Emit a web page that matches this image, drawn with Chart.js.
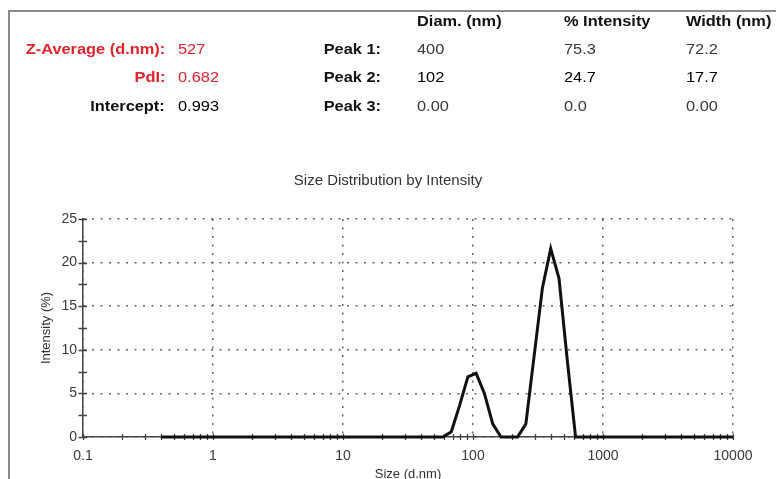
<!DOCTYPE html>
<html>
<head>
<meta charset="utf-8">
<script src="https://cdn.jsdelivr.net/npm/chart.js@4/dist/chart.umd.min.js"></script>
<style>
  html, body { margin: 0; padding: 0; background: #fff; overflow: hidden; }
  #page { position: relative; width: 776px; height: 479px; font-family: "Liberation Sans", Arial, sans-serif; }
  #frame { position: absolute; left: 8px; top: 10px; right: -4px; bottom: -4px; border-left: 2px solid #8a8a8a; border-top: 2px solid #8a8a8a; }
  #chartCanvas { position: absolute; left: 0; top: 0; }
  .t { position: absolute; font-size: 14px; line-height: 16px; white-space: nowrap; transform: scaleX(1.17); }
  .l { transform-origin: left center; }
  .r { transform-origin: right center; text-align: right; }
  .b { font-weight: bold; color: #111; }
  .red { color: #e3232b; }
  .v { color: #383838; }
  .k { color: #000; }
</style>
</head>
<body>
<div id="page">
  <div id="frame"></div>
  <canvas id="chartCanvas" width="776" height="479"></canvas>
  <div id="header"></div>
</div>
<script>
// size bins (d.nm) and intensity (%)
const sizes = [0.4, 58.8, 68.1, 78.8, 91.3, 105.7, 122.4, 141.8, 164.2, 190.1, 220.2, 255, 295.3, 342, 396.1, 458.7, 531.2, 615.1, 10000];
const intensity = [0, 0, 0.6, 3.6, 6.9, 7.3, 5.0, 1.5, 0, 0, 0, 1.5, 9.3, 17.1, 21.6, 18.2, 8.8, 0, 0];

const xTicks = [0.1, 1, 10, 100, 1000, 10000];
const yTicks = [0, 5, 10, 15, 20, 25];
const yMinorTicks = [0, 2.5, 5, 7.5, 10, 12.5, 15, 17.5, 20, 22.5, 25];

const summaryLabels = ["Z-Average (d.nm):", "PdI:", "Intercept:"];
const summaryValues = ["527", "0.682", "0.993"];
const peakLabels = ["Peak 1:", "Peak 2:", "Peak 3:"];
const peakColumns = ["Diam. (nm)", "% Intensity", "Width (nm)"];
const peakDiam = ["400", "102", "0.00"];
const peakIntensity = ["75.3", "24.7", "0.0"];
const peakWidth = ["72.2", "17.7", "0.00"];

function addText(text, cls, x, yc, alignRight) {
  const el = document.createElement("div");
  el.className = "t " + cls + (alignRight ? " r" : " l");
  el.textContent = text;
  el.style.top = (yc - 8) + "px";
  if (alignRight) el.style.right = (776 - x) + "px";
  else el.style.left = x + "px";
  document.getElementById("header").appendChild(el);
}

function buildHeader() {
  const rowY = [49, 77, 106];
  const colX = [417, 564, 686];
  peakColumns.forEach((c, i) => addText(c, "b", colX[i], 21, false));
  summaryLabels.forEach((s, i) => addText(s, i < 2 ? "b red" : "b", 165, rowY[i], true));
  summaryValues.forEach((s, i) => addText(s, i < 2 ? "red" : "k", 178, rowY[i], false));
  peakLabels.forEach((s, i) => addText(s, "b", 381, rowY[i], true));
  [peakDiam, peakIntensity, peakWidth].forEach((col, j) => {
    col.forEach((s, i) => addText(s, i === 1 ? "k" : "v", colX[j], rowY[i], false));
  });
}

function xMinorTicks() {
  const out = [];
  for (let d = 0.1; d < 10000; d *= 10) {
    for (let m = 1; m < 10; m++) out.push(d * m);
  }
  out.push(10000);
  return out;
}

const tickMarks = {
  id: "tickMarks",
  beforeDatasetsDraw(chart) {
    const { ctx, chartArea, scales: { x, y } } = chart;
    ctx.save();
    ctx.strokeStyle = "#444";
    ctx.lineWidth = 1.3;
    ctx.beginPath();
    yMinorTicks.forEach((v) => {
      const py = Math.round(y.getPixelForValue(v)) + 0.5;
      ctx.moveTo(chartArea.left - 4.5, py);
      ctx.lineTo(chartArea.left + 4, py);
    });
    xMinorTicks().forEach((v) => {
      const px = Math.round(x.getPixelForValue(v)) + 0.5;
      ctx.moveTo(px, chartArea.bottom - 3);
      ctx.lineTo(px, chartArea.bottom + 3);
    });
    ctx.stroke();
    ctx.restore();
  },
};

function renderChart() {
  const ctx = document.getElementById("chartCanvas").getContext("2d");
  const points = sizes.map((s, i) => ({ x: s, y: intensity[i] }));
  new Chart(ctx, {
    type: "line",
    data: {
      datasets: [{
        label: "Intensity",
        data: points,
        borderColor: "#111",
        borderWidth: 3,
        pointRadius: 0,
        tension: 0,
        clip: false,
      }],
    },
    options: {
      responsive: false,
      animation: false,
      layout: { padding: 0 },
      plugins: {
        legend: { display: false },
        tooltip: { enabled: false },
        title: {
          display: true,
          text: "Size Distribution by Intensity",
          color: "#333",
          font: { family: "Liberation Sans, Arial", size: 15, weight: "normal", lineHeight: 1.2 },
          padding: { top: 172, bottom: 29 },
        },
      },
      scales: {
        x: {
          type: "logarithmic",
          min: 0.1,
          max: 10000,
          afterBuildTicks: (scale) => { scale.ticks = xTicks.map((v) => ({ value: v })); },
          afterFit: (scale) => { scale.height = 42; },
          ticks: {
            color: "#3a3a3a",
            font: { family: "Liberation Sans, Arial", size: 14 },
            padding: 11,
            maxRotation: 0,
            callback: (v) => String(v),
          },
          grid: { color: "#666", lineWidth: 1.5, drawTicks: false },
          border: { display: true, color: "#444", width: 1.5, dash: [2, 6.5] },
          title: {
            display: true,
            text: "Size (d.nm)",
            color: "#333",
            font: { family: "Liberation Sans, Arial", size: 13 },
            padding: { top: 0, bottom: -3 },
          },
        },
        y: {
          min: 0,
          max: 25,
          afterBuildTicks: (scale) => { scale.ticks = yTicks.map((v) => ({ value: v })); },
          afterFit: (scale) => { scale.width = 83; },
          ticks: {
            color: "#3a3a3a",
            font: { family: "Liberation Sans, Arial", size: 14 },
            padding: 6,
          },
          grid: { color: "#666", lineWidth: 1.5, drawTicks: false },
          border: { display: true, color: "#444", width: 1.5, dash: [2, 6.5] },
          title: {
            display: true,
            text: "Intensity (%)",
            color: "#333",
            font: { family: "Liberation Sans, Arial", size: 13 },
            padding: { top: 39, bottom: 0 },
          },
        },
        // empty right-hand axis that only reserves the margin, so the title stays centred on the page
        yRight: {
          position: "right",
          display: true,
          afterFit: (scale) => { scale.width = 43; },
          ticks: { display: false },
          grid: { display: false },
          border: { display: false },
        },
      },
    },
    plugins: [tickMarks],
  });
}

buildHeader();
renderChart();
</script>
</body>
</html>
